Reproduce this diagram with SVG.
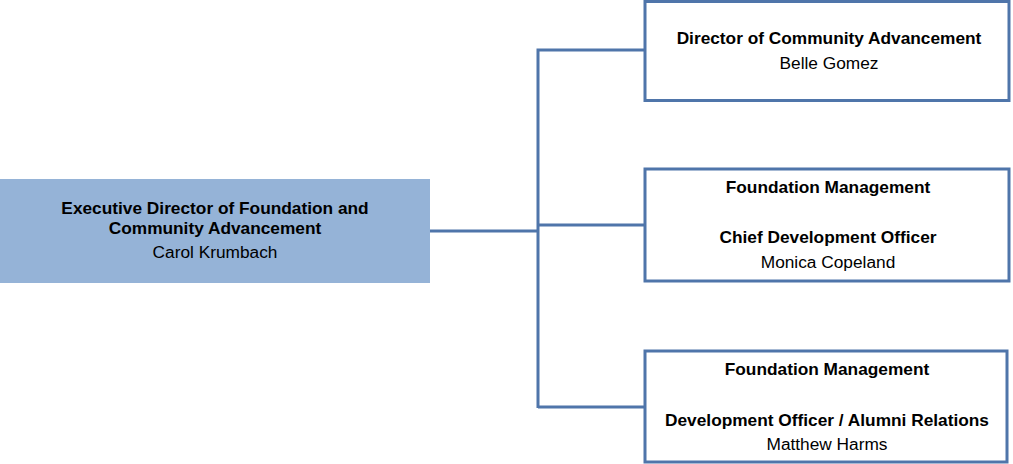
<svg xmlns="http://www.w3.org/2000/svg" width="1013" height="464" viewBox="0 0 1013 464">
  <style>
    .box { fill: #ffffff; stroke: #4F75AA; stroke-width: 3; }
    .root { fill: #95B3D7; stroke: none; }
    .link { fill: none; stroke: #4F75AA; stroke-width: 3; }
    text { font-family: "Liberation Sans", Arial, sans-serif; font-size: 17.3px; fill: #000000; text-anchor: middle; }
    .b { font-weight: bold; }
  </style>
  <rect width="1013" height="464" fill="#ffffff"/>
  <g id="connectors">
    <path class="link" d="M430,231 H538"/>
    <path class="link" d="M538,408 V50 H645"/>
    <path class="link" d="M538,225 H645"/>
    <path class="link" d="M538,407 H645"/>
  </g>
  <g id="executive-director">
    <rect class="root" x="0" y="179" width="430" height="104"/>
    <text class="b" x="215" y="213.8">Executive Director of Foundation and</text>
    <text class="b" x="215" y="233.5">Community Advancement</text>
    <text x="215" y="257.5">Carol Krumbach</text>
  </g>
  <g id="community-advancement">
    <rect class="box" x="645" y="1.5" width="364" height="99"/>
    <text class="b" x="829" y="44">Director of Community Advancement</text>
    <text x="829" y="69">Belle Gomez</text>
  </g>
  <g id="chief-development">
    <rect class="box" x="645" y="169" width="364" height="112"/>
    <text class="b" x="828" y="192.5">Foundation Management</text>
    <text class="b" x="828" y="243">Chief Development Officer</text>
    <text x="828" y="267.5">Monica Copeland</text>
  </g>
  <g id="alumni-relations">
    <rect class="box" x="645" y="351" width="362" height="111"/>
    <text class="b" x="827" y="375">Foundation Management</text>
    <text class="b" x="827" y="426">Development Officer / Alumni Relations</text>
    <text x="827" y="450">Matthew Harms</text>
  </g>
</svg>
